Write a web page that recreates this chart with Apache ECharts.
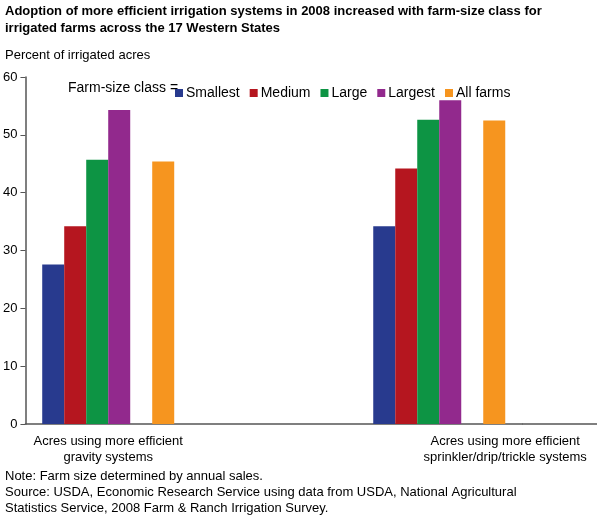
<!DOCTYPE html>
<html><head><meta charset="utf-8">
<script src="https://cdn.jsdelivr.net/npm/echarts@6/dist/echarts.min.js"></script>
<style>body{margin:0}#c{width:597px;height:530px}</style></head>
<body><div id="c"></div>
<script>
const categories = ['Acres using more efficient\ngravity systems', '', 'Acres using more efficient\nsprinkler/drip/trickle systems'];
const smallest = [27.6, null, 34.2];
const medium = [34.2, null, 44.2];
const large = [45.7, null, 52.6];
const largest = [54.3, null, 56.0];
const allFarms = [45.4, null, 52.5];
const yTicks = [0, 10, 20, 30, 40, 50, 60];

const font = 'Liberation Sans, Arial, sans-serif';
const chart = echarts.init(document.getElementById('c'));
function bar(name, data, color) {
  return {type: 'bar', name: name, data: data, barWidth: 22, barGap: '0%',
    itemStyle: {color: color}};
}
chart.setOption({
  animation: false,
  textStyle: {fontFamily: font},
  grid: {left: 24, top: 77, width: 498, bottom: 106},
  legend: {
    data: ['Smallest', 'Medium', 'Large', 'Largest', 'All farms'],
    left: 170, top: 81, itemWidth: 8, itemHeight: 8, itemGap: 10,
    icon: 'rect', textStyle: {fontSize: 14, color: '#000', fontFamily: font, padding: [0, 0, 0, -2]}
  },
  xAxis: {
    type: 'category',
    data: categories.map((c, i) => i === 2 ? {value: c, textStyle: {padding: [0, 0, 0, 132]}} : c),
    axisLine: {lineStyle: {color: '#555', width: 1.5}},
    axisTick: {show: false},
    axisLabel: {color: '#000', fontSize: 13, interval: 0, margin: 9, lineHeight: 16}
  },
  yAxis: {
    type: 'value', min: 0, max: 60, interval: 10,
    splitLine: {show: false},
    axisLine: {show: true, lineStyle: {color: '#555', width: 1.5}},
    axisTick: {show: true, length: 5, lineStyle: {color: '#555'}},
    axisLabel: {color: '#000', fontSize: 13, margin: 8,
      formatter: v => yTicks.includes(v) ? String(v) : ''}
  },
  series: [
    bar('Smallest', smallest, '#283a8e'),
    bar('Medium', medium, '#b5161f'),
    bar('Large', large, '#0d9444'),
    bar('Largest', largest, '#92298d'),
    bar('gap', [null, null, null], 'transparent'),
    bar('All farms', allFarms, '#f6951f')
  ],
  graphic: [
    {type: 'text', left: 5, top: 3, style: {text: 'Adoption of more efficient irrigation systems in 2008 increased with farm-size class for\nirrigated farms across the 17 Western States', font: 'bold 13px ' + font, fill: '#000', lineHeight: 17}},
    {type: 'text', left: 5, top: 49, style: {text: 'Percent of irrigated acres', font: '13px ' + font, fill: '#000'}},
    {type: 'text', left: 68, top: 81, style: {text: 'Farm-size class =', font: '14px ' + font, fill: '#000'}},
    {type: 'line', shape: {x1: 522, y1: 424, x2: 597, y2: 424}, style: {stroke: '#555', lineWidth: 1.5}},
    {type: 'text', left: 5, top: 468, style: {text: 'Note: Farm size determined by annual sales.\nSource: USDA, Economic Research Service using data from USDA, National Agricultural\nStatistics Service, 2008 Farm & Ranch Irrigation Survey.', font: '13px ' + font, fill: '#000', lineHeight: 16}}
  ]
});
</script></body></html>
